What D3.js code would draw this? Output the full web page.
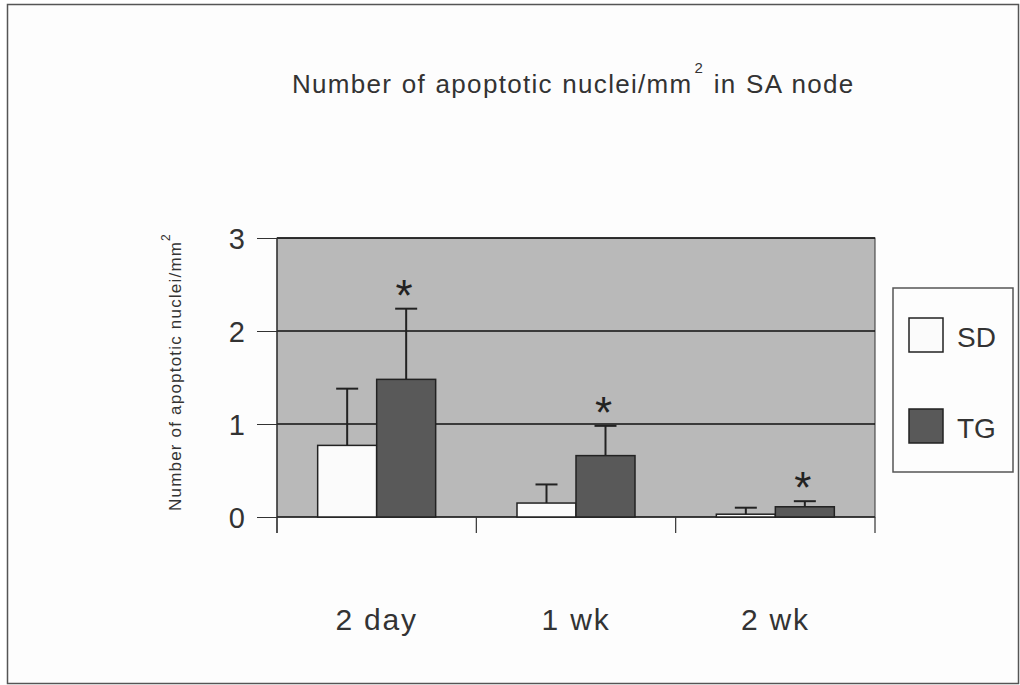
<!DOCTYPE html>
<html><head><meta charset="utf-8">
<script src="https://cdn.jsdelivr.net/npm/d3@7"></script>
<style>body{margin:0;background:#fff;} svg{display:block;font-family:Arial,"Liberation Sans",sans-serif;}</style>
</head><body>
<svg id="c" width="1020" height="685"></svg>
<script>
const categories = ["2 day", "1 wk", "2 wk"];
const series = ["SD", "TG"];
const sdMean = [0.77, 0.15, 0.03];
const sdErr  = [1.38, 0.35, 0.10];
const tgMean = [1.48, 0.66, 0.11];
const tgErr  = [2.24, 0.98, 0.17];
const significant = [true, true, true];
const yTicks = [0, 1, 2, 3];

const svg = d3.select("#c");
svg.append("rect").attr("x", 7.5).attr("y", 4.5).attr("width", 1011).attr("height", 679)
  .attr("fill", "#fdfdfd").attr("stroke", "#555").attr("stroke-width", 1.5);

const L = 277, R = 875, T = 238, B = 517;
const x = d3.scaleBand().domain(categories).range([L, R]).paddingInner(0).paddingOuter(0);
const xs = d3.scaleBand().domain(series).range([0, 118]);
const y = d3.scaleLinear().domain([0, 3]).range([B, T]);

// plot background
svg.append("rect").attr("x", L).attr("y", T).attr("width", R - L).attr("height", B - T)
  .attr("fill", "#b9b9b9").attr("stroke", "#333").attr("stroke-width", 1);

// gridlines
svg.append("g").selectAll("line").data(yTicks.filter(d => d > 0)).join("line")
  .attr("x1", L).attr("x2", R).attr("y1", d => y(d)).attr("y2", d => y(d))
  .attr("stroke", "#111").attr("stroke-width", 1.5);

// y axis
const yAxis = d3.axisLeft(y).tickValues(yTicks).tickSize(20).tickPadding(12).tickFormat(d3.format("d"));
const ga = svg.append("g").attr("transform", `translate(${L},0)`).call(yAxis);
ga.select(".domain").remove();
ga.selectAll("line").attr("stroke", "#333");
ga.selectAll("text").attr("font-size", 29).attr("fill", "#333").attr("dy", "0.36em");
svg.append("line").attr("x1", L).attr("x2", L).attr("y1", T).attr("y2", B + 16).attr("stroke", "#333").attr("stroke-width", 1.2);

// x axis
svg.append("line").attr("x1", L).attr("x2", R).attr("y1", B).attr("y2", B).attr("stroke", "#222").attr("stroke-width", 1.5);
const bounds = categories.map(c => x(c)).concat([x(categories[categories.length - 1]) + x.bandwidth()]);
svg.append("g").selectAll("line").data(bounds).join("line")
  .attr("x1", d => d).attr("x2", d => d).attr("y1", B).attr("y2", B + 16)
  .attr("stroke", "#333").attr("stroke-width", 1.2);
svg.append("g").selectAll("text").data(categories).join("text")
  .attr("x", d => x(d) + x.bandwidth() / 2).attr("y", 630)
  .attr("text-anchor", "middle").attr("font-size", 30).attr("letter-spacing", 1.8)
  .attr("fill", "#333").text(d => d);

const groupOff = (x.bandwidth() - 118) / 2;
const data = [
  { s: "SD", mean: sdMean, err: sdErr, fill: "#fbfbfb" },
  { s: "TG", mean: tgMean, err: tgErr, fill: "#595959" }
];
data.forEach(ser => {
  const g = svg.append("g");
  categories.forEach((c, i) => {
    const bx = x(c) + groupOff + xs(ser.s);
    const cx = bx + xs.bandwidth() / 2;
    g.append("line").attr("x1", cx).attr("x2", cx).attr("y1", y(ser.mean[i])).attr("y2", y(ser.err[i]))
      .attr("stroke", "#222").attr("stroke-width", 2);
    g.append("line").attr("x1", cx - 11).attr("x2", cx + 11).attr("y1", y(ser.err[i])).attr("y2", y(ser.err[i]))
      .attr("stroke", "#222").attr("stroke-width", 2);
    g.append("rect").attr("x", bx).attr("y", y(ser.mean[i])).attr("width", xs.bandwidth())
      .attr("height", y(0) - y(ser.mean[i])).attr("fill", ser.fill).attr("stroke", "#222").attr("stroke-width", 1.5);
    if (ser.s === "TG" && significant[i]) {
      svg.append("text").attr("x", cx - 2).attr("y", y(ser.err[i]) + 2).attr("text-anchor", "middle")
        .attr("font-size", 44).attr("fill", "#222").text("*");
    }
  });
});

// title
const title = svg.append("text").attr("x", 292).attr("y", 93).attr("font-size", 26)
  .attr("letter-spacing", 1.3).attr("word-spacing", 1).attr("fill", "#333");
title.append("tspan").text("Number of apoptotic nuclei/mm");
title.append("tspan").attr("font-size", 15).attr("dy", -20).attr("dx", 2).text("2");
title.append("tspan").attr("dy", 20).text("  in SA node");

// y label
const yl = svg.append("text").attr("transform", "translate(181,372) rotate(-90)").attr("text-anchor", "middle")
  .attr("font-size", 17).attr("letter-spacing", 1.2).attr("fill", "#333");
yl.append("tspan").text("Number of apoptotic nuclei/mm");
yl.append("tspan").attr("font-size", 12).attr("dy", -11).text("2");

// legend
svg.append("rect").attr("x", 893).attr("y", 288).attr("width", 120).attr("height", 184)
  .attr("fill", "#fdfdfd").attr("stroke", "#555").attr("stroke-width", 1.5);
const leg = svg.append("g");
leg.selectAll("rect").data(data).join("rect")
  .attr("x", 909).attr("y", (d, i) => 318 + i * 91).attr("width", 34).attr("height", 34)
  .attr("fill", d => d.fill).attr("stroke", "#222").attr("stroke-width", 1.5);
leg.selectAll("text").data(data).join("text")
  .attr("x", 957).attr("y", (d, i) => 347 + i * 91).attr("font-size", 28).attr("fill", "#333").text(d => d.s);
</script>
</body></html>
